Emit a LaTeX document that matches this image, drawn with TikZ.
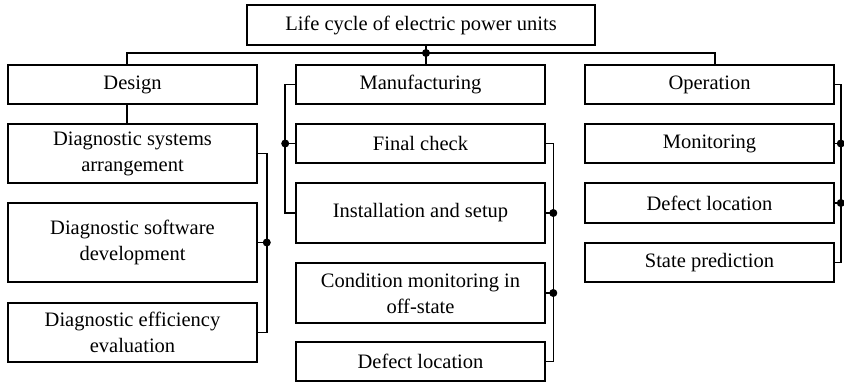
\documentclass[tikz,border=0pt]{standalone}
\usepackage{fontspec}
\setmainfont{Liberation Serif}
\begin{document}
\begin{tikzpicture}[x=1pt,y=-1pt,line width=1.6pt,
    box/.style={draw,minimum width=249pt,inner sep=2pt,align=center,font=\fontsize{20.5}{26}\selectfont},
    dot/.style={circle,fill,inner sep=0pt,minimum size=8pt}]
    \useasboundingbox (0,0) rectangle (844,382);
    \node[box,minimum width=348pt,minimum height=40pt] (life) at (421,25) {Life cycle of electric power units};
    % design column
    \foreach \name/\y/\h/\txt in {design/84.5/39/Design,arrange/153.5/59/{Diagnostic systems\\arrangement},softw/242.5/79/{Diagnostic software\\development},evalu/332.5/59/{Diagnostic efficiency\\evaluation}}{%
        \node[box,minimum height=\h pt] (\name) at (132.5,\y) {\txt};
    }
    % manufacturing column
    \foreach \name/\y/\h/\txt in {manuf/84.5/39/Manufacturing,check/143.5/39/Final check,install/213/60/Installation and setup,cond/293/60/{Condition monitoring in\\off-state},defectm/361.5/39/Defect location}{%
        \node[box,minimum height=\h pt] (\name) at (420.5,\y) {\txt};
    }
    % operation column
    \foreach \name/\y/\h/\txt in {oper/84.5/39/Operation,monit/143.5/39/Monitoring,defecto/203/40/Defect location,state/262.5/39/State prediction}{%
        \node[box,minimum height=\h pt] (\name) at (709.5,\y) {\txt};
    }
    % top level
    \coordinate (hub) at (426,53);
    \draw (life.south -| hub) -- (manuf.north -| hub);
    \node[dot] at (hub) {};
    \draw ([xshift=-5.5pt]design.north) |- (hub) -| ([xshift=5.5pt]oper.north);
    % design links
    \draw ([xshift=-5.5pt]design.south) -- ([xshift=-5.5pt]arrange.north);
    \draw (arrange.east) -- ++(9,0) |- (evalu.east);
    \draw (softw.east) -- ++(9,0) node[dot] {};
    % manufacturing links
    \draw (manuf.west) -- ++(-10,0) |- (install.west);
    \draw (check.west) -- ++(-10,0) node[dot] {};
    \draw (check.east) -- ++(7.5,0) |- (defectm.east);
    \draw (install.east) -- ++(7.5,0) node[dot] {};
    \draw (cond.east) -- ++(7.5,0) node[dot] {};
    % operation links
    \draw (oper.east) -- ++(6,0) |- (state.east);
    \draw (monit.east) -- ++(6,0) node[dot] {};
    \draw (defecto.east) -- ++(6,0) node[dot] {};
\end{tikzpicture}
\end{document}
